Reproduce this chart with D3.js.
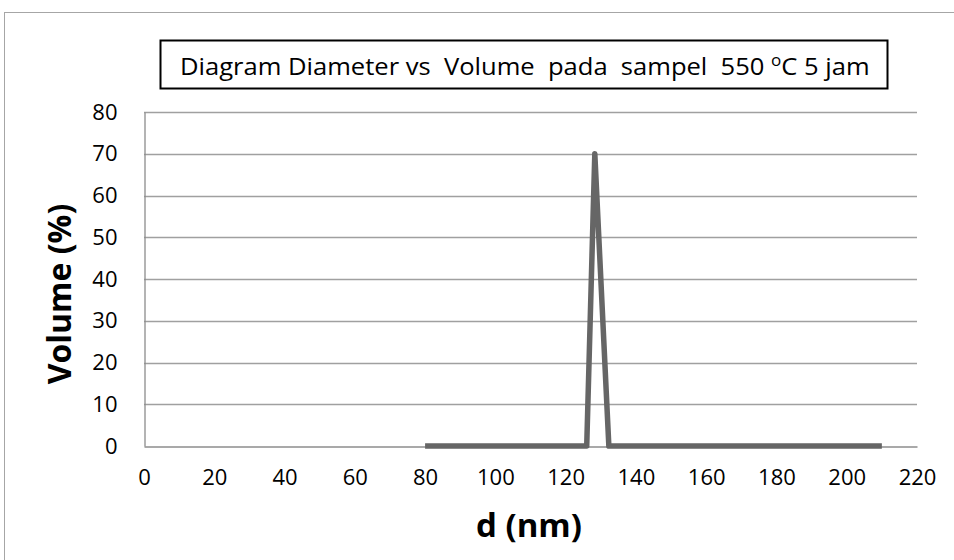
<!DOCTYPE html>
<html>
<head>
<meta charset="utf-8">
<script src="https://cdn.jsdelivr.net/npm/d3@7"></script>
<style>
  html, body { margin: 0; padding: 0; background: #fff; }
  svg { display: block; }
  text { font-family: "Open Sans", "Liberation Sans", sans-serif; fill: #000; }
</style>
</head>
<body>
<svg id="chart" width="954" height="560"></svg>
<script>
// Particle size distribution: diameter (nm) vs volume (%)
const diameter = [80, 126, 128.3, 132.3, 210];
const volume   = [0, 0, 70, 0, 0];
const xTicks = [0, 20, 40, 60, 80, 100, 120, 140, 160, 180, 200, 220];
const yTicks = [0, 10, 20, 30, 40, 50, 60, 70, 80];
const titleMain = "Diagram Diameter vs  Volume  pada  sampel  550 ";
const titleSup = "o";
const titleEnd = "C 5 jam";

const svg = d3.select("#chart");
const W = 954, H = 560;
const plot = { left: 144, right: 917, top: 112, bottom: 446 };
const tickFont = '"Open Sans", "Liberation Sans", sans-serif';

// outer chart frame
svg.append("rect")
  .attr("x", 4.5).attr("y", 12.5)
  .attr("width", W + 10).attr("height", H + 10)
  .attr("fill", "#fff").attr("stroke", "#a6a6a6").attr("stroke-width", 1);

const x = d3.scaleLinear().domain([0, 220]).range([plot.left, plot.right]);
const y = d3.scaleLinear().domain([0, 80]).range([plot.bottom, plot.top]);

// horizontal gridlines
svg.append("g")
  .selectAll("line")
  .data(yTicks.filter(t => t > 0))
  .join("line")
  .attr("x1", plot.left).attr("x2", plot.right)
  .attr("y1", d => Math.round(y(d)) + 0.5).attr("y2", d => Math.round(y(d)) + 0.5)
  .attr("stroke", "#a0a0a0").attr("stroke-width", 1.3);

// y axis
const yAxis = svg.append("g")
  .attr("transform", `translate(${plot.left + 0.5},0)`)
  .call(d3.axisLeft(y).tickValues(yTicks).tickSize(0).tickPadding(27));
yAxis.select(".domain").attr("stroke", "#8c8c8c").attr("stroke-width", 1.3);
yAxis.selectAll("text").attr("font-size", 22).attr("fill", "#222")
  .style("font-family", tickFont);

// x axis
const xAxis = svg.append("g")
  .attr("transform", `translate(0,${Math.round(plot.bottom) + 0.5})`)
  .call(d3.axisBottom(x).tickValues(xTicks).tickSize(0).tickPadding(23));
xAxis.select(".domain").attr("stroke", "#8c8c8c").attr("stroke-width", 1.3);
xAxis.selectAll("text").attr("font-size", 22).attr("fill", "#222")
  .style("font-family", tickFont);

// data line
const pts = diameter.map((d, i) => [d, volume[i]]);
svg.append("path")
  .datum(pts)
  .attr("fill", "none")
  .attr("stroke", "#666666")
  .attr("stroke-width", 5.5)
  .attr("stroke-linejoin", "round")
  .attr("d", d3.line().x(d => x(d[0])).y(d => y(d[1])));

// axis titles
svg.append("text")
  .attr("x", 529).attr("y", 537)
  .attr("text-anchor", "middle")
  .attr("font-size", 33).attr("font-weight", "bold")
  .text("d (nm)");

svg.append("text")
  .attr("transform", "translate(71,294) rotate(-90)")
  .attr("text-anchor", "middle")
  .attr("font-size", 32).attr("font-weight", "bold")
  .text("Volume (%)");

// boxed title
svg.append("rect")
  .attr("x", 160.5).attr("y", 40.5)
  .attr("width", 727).attr("height", 48)
  .attr("fill", "#fff").attr("stroke", "#000").attr("stroke-width", 2);

const t = svg.append("text")
  .attr("x", 180).attr("y", 75)
  .attr("xml:space", "preserve")
  .style("white-space", "pre")
  .attr("font-size", 24);
t.append("tspan").text(titleMain);
t.append("tspan").attr("font-size", 16).attr("dy", -9).text(titleSup);
t.append("tspan").attr("font-size", 24).attr("dy", 9).text(titleEnd);

// fit the title text between the box margins
const wanted = 690;
const got = t.node().getComputedTextLength();
if (got > 0) {
  t.attr("transform", `translate(180,0) scale(${wanted / got},1) translate(-180,0)`);
}
</script>
</body>
</html>
